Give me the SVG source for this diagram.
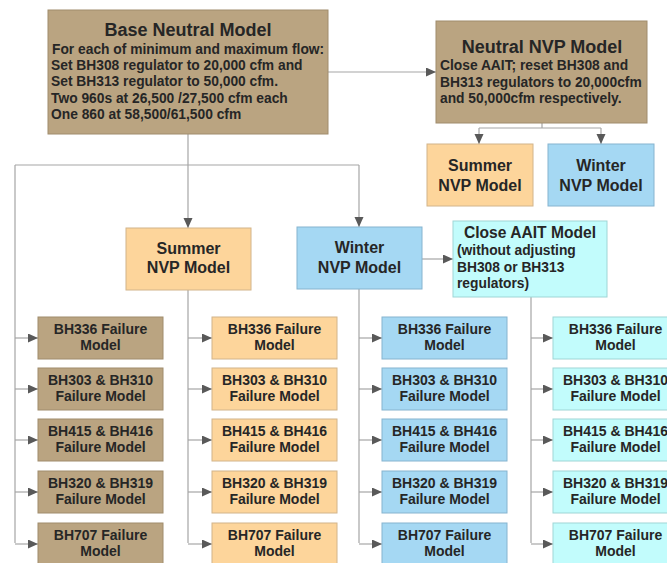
<svg xmlns="http://www.w3.org/2000/svg" width="667" height="563" viewBox="0 0 667 563">
<style>
text{font-family:"Liberation Sans",Arial,sans-serif;font-weight:bold;fill:#262626}
.t{font-size:18px;text-anchor:middle}
.b{font-size:13.8px}
.m{font-size:16px;text-anchor:middle}
.f{font-size:14px;text-anchor:middle}
.tan{fill:#baa481;stroke:#a08c6c;stroke-width:1}
.sum{fill:#fdd59b;stroke:#d2b48a;stroke-width:1}
.win{fill:#a5d8f3;stroke:#86b4cf;stroke-width:1}
.cya{fill:#c2fcfc;stroke:#9fd6d6;stroke-width:1}
.c{fill:none;stroke:#a6a6a6;stroke-width:1.2}
.a{fill:none;stroke:#a6a6a6;stroke-width:1.2;marker-end:url(#ah)}
</style>
<defs>
<marker id="ah" markerUnits="userSpaceOnUse" markerWidth="11" markerHeight="10" refX="10" refY="4.5" orient="auto">
<path d="M0,0 L10,4.5 L0,9 z" fill="#595959"/>
</marker>
</defs>
<rect width="667" height="563" fill="#ffffff"/>
<g id="connectors">
<path class="a" d="M328,72 H436"/>
<path class="c" d="M542,123 V128 M479,128 H601"/>
<path class="a" d="M479,128 V144"/>
<path class="a" d="M601,128 V144"/>
<path class="a" d="M188,134 V228"/>
<path class="c" d="M15,165 H359 M15,165 V543"/>
<path class="a" d="M359,165 V227"/>
<path class="a" d="M422,259 H453"/>
<path class="c" d="M188,290 V543 M359,289 V543 M531,297 V543"/>
<path class="a" d="M15,338 H38"/><path class="a" d="M15,389 H38"/><path class="a" d="M15,440 H38"/><path class="a" d="M15,492 H38"/><path class="a" d="M15,544 H38"/>
<path class="a" d="M188,338 H212"/><path class="a" d="M188,389 H212"/><path class="a" d="M188,440 H212"/><path class="a" d="M188,492 H212"/><path class="a" d="M188,544 H212"/>
<path class="a" d="M359,338 H382"/><path class="a" d="M359,389 H382"/><path class="a" d="M359,440 H382"/><path class="a" d="M359,492 H382"/><path class="a" d="M359,544 H382"/>
<path class="a" d="M531,338 H553"/><path class="a" d="M531,389 H553"/><path class="a" d="M531,440 H553"/><path class="a" d="M531,492 H553"/><path class="a" d="M531,544 H553"/>
</g>
<g id="base">
<rect class="tan" x="48" y="10" width="280" height="124"/>
<text class="t" x="188" y="36">Base Neutral Model</text>
<text class="b" x="52" y="54">For each of minimum and maximum flow:</text>
<text class="b" x="51" y="70">Set BH308 regulator to 20,000 cfm and</text>
<text class="b" x="51" y="86">Set BH313 regulator to 50,000 cfm.</text>
<text class="b" x="51" y="103">Two 960s at 26,500 /27,500 cfm each</text>
<text class="b" x="51" y="119">One 860 at 58,500/61,500 cfm</text>
</g>
<g id="neutral-nvp">
<rect class="tan" x="436" y="21" width="211" height="102"/>
<text class="t" x="542" y="53">Neutral NVP Model</text>
<text class="b" x="440" y="70">Close AAIT; reset BH308 and</text>
<text class="b" x="440" y="87">BH313 regulators to 20,000cfm</text>
<text class="b" x="440" y="103">and 50,000cfm respectively.</text>
</g>
<g id="summer-top">
<rect class="sum" x="427" y="144" width="106" height="62"/>
<text class="m" x="480" y="171">Summer</text>
<text class="m" x="480" y="191">NVP Model</text>
</g>
<g id="winter-top">
<rect class="win" x="548" y="144" width="106" height="62"/>
<text class="m" x="601" y="171">Winter</text>
<text class="m" x="601" y="191">NVP Model</text>
</g>
<g id="summer-mid">
<rect class="sum" x="126" y="228" width="125" height="62"/>
<text class="m" x="188.5" y="254">Summer</text>
<text class="m" x="188.5" y="273">NVP Model</text>
</g>
<g id="winter-mid">
<rect class="win" x="297" y="227" width="125" height="62"/>
<text class="m" x="359.5" y="253">Winter</text>
<text class="m" x="359.5" y="273">NVP Model</text>
</g>
<g id="close-aait">
<rect class="cya" x="453" y="221" width="154" height="76"/>
<text class="m" x="530" y="238" style="font-size:15.6px">Close AAIT Model</text>
<text class="b" x="457" y="255">(without adjusting</text>
<text class="b" x="457" y="272">BH308 or BH313</text>
<text class="b" x="457" y="288">regulators)</text>
</g>
<g id="base-failures">
<g id="b1"><rect class="tan" x="38" y="317" width="125" height="42"/><text class="f" x="100.5" y="334">BH336 Failure</text><text class="f" x="100.5" y="350">Model</text></g>
<g id="b2"><rect class="tan" x="38" y="368" width="125" height="42"/><text class="f" x="100.5" y="385">BH303 &amp; BH310</text><text class="f" x="100.5" y="401">Failure Model</text></g>
<g id="b3"><rect class="tan" x="38" y="419" width="125" height="42"/><text class="f" x="100.5" y="436">BH415 &amp; BH416</text><text class="f" x="100.5" y="452">Failure Model</text></g>
<g id="b4"><rect class="tan" x="38" y="471" width="125" height="42"/><text class="f" x="100.5" y="488">BH320 &amp; BH319</text><text class="f" x="100.5" y="504">Failure Model</text></g>
<g id="b5"><rect class="tan" x="38" y="523" width="125" height="42"/><text class="f" x="100.5" y="540">BH707 Failure</text><text class="f" x="100.5" y="556">Model</text></g>
</g>
<g id="summer-failures">
<g id="s1"><rect class="sum" x="212" y="317" width="125" height="42"/><text class="f" x="274.5" y="334">BH336 Failure</text><text class="f" x="274.5" y="350">Model</text></g>
<g id="s2"><rect class="sum" x="212" y="368" width="125" height="42"/><text class="f" x="274.5" y="385">BH303 &amp; BH310</text><text class="f" x="274.5" y="401">Failure Model</text></g>
<g id="s3"><rect class="sum" x="212" y="419" width="125" height="42"/><text class="f" x="274.5" y="436">BH415 &amp; BH416</text><text class="f" x="274.5" y="452">Failure Model</text></g>
<g id="s4"><rect class="sum" x="212" y="471" width="125" height="42"/><text class="f" x="274.5" y="488">BH320 &amp; BH319</text><text class="f" x="274.5" y="504">Failure Model</text></g>
<g id="s5"><rect class="sum" x="212" y="523" width="125" height="42"/><text class="f" x="274.5" y="540">BH707 Failure</text><text class="f" x="274.5" y="556">Model</text></g>
</g>
<g id="winter-failures">
<g id="w1"><rect class="win" x="382" y="317" width="125" height="42"/><text class="f" x="444.5" y="334">BH336 Failure</text><text class="f" x="444.5" y="350">Model</text></g>
<g id="w2"><rect class="win" x="382" y="368" width="125" height="42"/><text class="f" x="444.5" y="385">BH303 &amp; BH310</text><text class="f" x="444.5" y="401">Failure Model</text></g>
<g id="w3"><rect class="win" x="382" y="419" width="125" height="42"/><text class="f" x="444.5" y="436">BH415 &amp; BH416</text><text class="f" x="444.5" y="452">Failure Model</text></g>
<g id="w4"><rect class="win" x="382" y="471" width="125" height="42"/><text class="f" x="444.5" y="488">BH320 &amp; BH319</text><text class="f" x="444.5" y="504">Failure Model</text></g>
<g id="w5"><rect class="win" x="382" y="523" width="125" height="42"/><text class="f" x="444.5" y="540">BH707 Failure</text><text class="f" x="444.5" y="556">Model</text></g>
</g>
<g id="aait-failures">
<g id="c1"><rect class="cya" x="553" y="317" width="125" height="42"/><text class="f" x="615.5" y="334">BH336 Failure</text><text class="f" x="615.5" y="350">Model</text></g>
<g id="c2"><rect class="cya" x="553" y="368" width="125" height="42"/><text class="f" x="615.5" y="385">BH303 &amp; BH310</text><text class="f" x="615.5" y="401">Failure Model</text></g>
<g id="c3"><rect class="cya" x="553" y="419" width="125" height="42"/><text class="f" x="615.5" y="436">BH415 &amp; BH416</text><text class="f" x="615.5" y="452">Failure Model</text></g>
<g id="c4"><rect class="cya" x="553" y="471" width="125" height="42"/><text class="f" x="615.5" y="488">BH320 &amp; BH319</text><text class="f" x="615.5" y="504">Failure Model</text></g>
<g id="c5"><rect class="cya" x="553" y="523" width="125" height="42"/><text class="f" x="615.5" y="540">BH707 Failure</text><text class="f" x="615.5" y="556">Model</text></g>
</g>
</svg>
